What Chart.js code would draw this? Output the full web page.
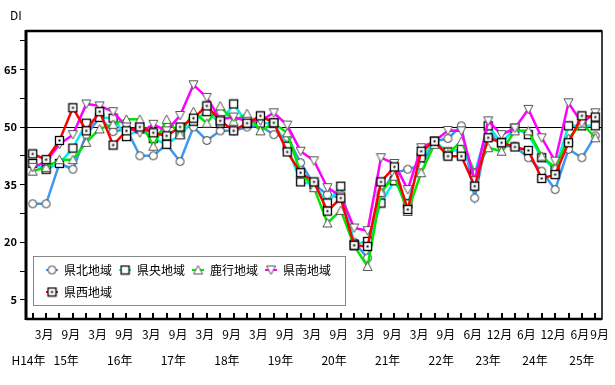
<!DOCTYPE html>
<html>
<head>
<meta charset="utf-8">
<script src="https://cdn.jsdelivr.net/npm/chart.js@4"></script>
<style>
  html, body { margin: 0; padding: 0; background: #fff; }
  canvas { display: block; }
</style>
</head>
<body>
<canvas id="chart" width="615" height="385"></canvas>
<script>
// survey points (year/month), one per quarter; H23 March is missing
const categories = ['14/12',
  '15/3','15/6','15/9','15/12','16/3','16/6','16/9','16/12',
  '17/3','17/6','17/9','17/12','18/3','18/6','18/9','18/12',
  '19/3','19/6','19/9','19/12','20/3','20/6','20/9','20/12',
  '21/3','21/6','21/9','21/12','22/3','22/6','22/9','22/12',
  '23/6','23/9','23/12','24/3','24/6','24/9','24/12',
  '25/3','25/6','25/9'];

// month labels under the axis ('' = tick without label)
const monthLabels = ['',
  '3月','','9月','','3月','','9月','',
  '3月','','9月','','3月','','9月','',
  '3月','','9月','','3月','','9月','',
  '3月','','9月','','3月','','9月','',
  '6月','','12月','','6月','','12月',
  '','6月','9月'];

const yearKeys = ['14','15','16','17','18','19','20','21','22','23','24','25'];
const yearLabels = ['H14年','15年','16年','17年','18年','19年','20年','21年','22年','23年','24年','25年'];

const yTicks = [5, 12.5, 20, 27.5, 35, 42.5, 50, 57.5, 65, 72.5];
const yLabels = [5, 20, 35, 50, 65];

const seriesNames = ['県北地域', '県央地域', '鹿行地域', '県南地域', '県西地域'];

const north   = [30, 30, 40.5, 39, 48, 52.5, 48.8, 49.5, 42.5, 42.5, 45.5, 41, 50, 46.5, 49, 49, 50, 50.3, 48, 47.4,
                 40.7, 35, 32.4, 31.5, 20, 15.9, 32.8, 38, 39, 40, 46.3, 47, 50.3, 31.5, 49, 45, 45, 42, 38.5, 33.7,
                 44.2, 42, 47.7];
const central = [40.5, 39, 40.5, 44.5, 51, 52.5, 52.3, 47.5, 49.5, 47, 45.5, 48, 51.5, 54, 51, 56, 51, 51, 51, 45,
                 35.7, 35, 30.2, 34.6, 19.5, 20.2, 30.2, 36, 30, 42, 46.3, 43.5, 44.2, 38, 50.3, 45.9, 49.7, 48, 42, 39,
                 50.3, 50.3, 50.3];
const rokko   = [38.5, 39.5, 41.5, 41.5, 46, 49.5, 50.7, 52, 52, 45, 52, 48, 54, 51, 55.5, 51.5, 53.5, 49, 51, 48.5,
                 38, 34.2, 25, 28.3, 19, 13.7, 33, 37.2, 28, 38.1, 45.5, 43, 46.3, 38.1, 44.6, 43.7, 49, 49, 42.4, 39.4,
                 47, 51, 47.2];
const south   = [39.5, 41, 45.5, 48, 56, 55.5, 54, 50, 48.5, 50.7, 49, 53, 61, 57.7, 52, 52.6, 51.5, 51.6, 53.7, 50.5,
                 43.7, 41.2, 34.2, 32, 23.7, 23, 42, 40.5, 33.7, 44.6, 46.3, 49.1, 49, 36, 51.6, 48, 49.7, 54.6, 47.2, 41.1,
                 56.3, 51, 53.7];
const west    = [43, 41.5, 46.5, 55, 49, 54, 45.3, 49, 50, 48.5, 47.7, 50, 52.3, 55.5, 51.6, 49, 51, 52.9, 51.1, 43.5,
                 38.1, 35.7, 28.1, 31.5, 19.2, 18.9, 35.7, 39.6, 28.5, 43.7, 46.3, 42.4, 42.4, 34.6, 47.2, 45.9, 44.8, 43.9, 36.6, 37.6,
                 45.9, 52.9, 52.6];

const FONT = '"Noto Sans CJK JP", "Noto Sans", sans-serif';
const lineColors = ['#3d98f0', '#00f0f0', '#00e600', '#ff00ff', '#ff0000'];

// marker images
function makeMarker(kind) {
  const c = document.createElement('canvas');
  c.width = 11; c.height = 11;
  const g = c.getContext('2d');
  g.fillStyle = '#fff';
  g.lineWidth = 1;
  if (kind === 'circle') {
    g.beginPath(); g.arc(5.5, 5.5, 4, 0, Math.PI * 2);
    g.fill(); g.strokeStyle = '#333'; g.stroke();
  } else if (kind === 'square' || kind === 'squareDot') {
    g.fillRect(1.5, 1.5, 8, 8);
    g.strokeStyle = '#000'; g.lineWidth = 1.3;
    g.strokeRect(1.5, 1.5, 8, 8);
    if (kind === 'squareDot') { g.fillStyle = '#000'; g.fillRect(4.5, 4.5, 2, 2); }
  } else if (kind === 'triUp') {
    g.beginPath(); g.moveTo(5.5, 1); g.lineTo(10, 9.5); g.lineTo(1, 9.5); g.closePath();
    g.fill(); g.strokeStyle = '#555'; g.stroke();
  } else if (kind === 'triDown') {
    g.beginPath(); g.moveTo(1, 1.5); g.lineTo(10, 1.5); g.lineTo(5.5, 10); g.closePath();
    g.fill(); g.strokeStyle = '#555'; g.stroke();
  }
  return c;
}
const markers = ['circle', 'square', 'triUp', 'triDown', 'squareDot'].map(makeMarker);

const seriesData = [north, central, rokko, south, west];
const datasets = seriesData.map((d, i) => ({
  label: seriesNames[i],
  data: d,
  borderColor: lineColors[i],
  backgroundColor: lineColors[i],
  borderWidth: 2.5,
  tension: 0,
  pointStyle: markers[i],
  pointRadius: 4,
  order: 5 - i   // later series drawn on top, like the original
}));

// frame, ticks, 50 line, labels and legend
const decor = {
  id: 'decor',
  beforeDatasetsDraw(chart) {
    const { ctx, chartArea: a, scales: { x, y } } = chart;
    ctx.save();
    // reference line at 50
    const y50 = Math.round(y.getPixelForValue(50)) + 0.5;
    ctx.strokeStyle = '#000'; ctx.lineWidth = 1;
    ctx.beginPath(); ctx.moveTo(a.left - 6, y50); ctx.lineTo(a.right, y50); ctx.stroke();
    // inward tick marks on the category axis
    ctx.lineWidth = 2;
    categories.forEach((c, i) => {
      const px = Math.round(x.getPixelForValue(i));
      ctx.beginPath(); ctx.moveTo(px, a.bottom); ctx.lineTo(px, a.bottom - 6); ctx.stroke();
    });
    ctx.restore();
  },
  afterDatasetsDraw(chart) {
    const { ctx, chartArea: a, scales: { x } } = chart;
    ctx.save();
    // plot frame
    ctx.strokeStyle = '#000';
    ctx.lineWidth = 1.5;
    ctx.strokeRect(a.left, a.top, a.right - a.left, a.bottom - a.top);
    ctx.lineWidth = 3;
    ctx.beginPath(); ctx.moveTo(a.left, a.top - 1); ctx.lineTo(a.left, a.bottom + 1); ctx.stroke();
    ctx.lineWidth = 2.5;
    ctx.beginPath(); ctx.moveTo(a.left, a.top); ctx.lineTo(a.right, a.top); ctx.stroke();
    ctx.beginPath(); ctx.moveTo(a.left, a.bottom); ctx.lineTo(a.right, a.bottom); ctx.stroke();

    // legend
    const lx = a.left + 7, ly = a.bottom - 63, lw = 312, lh = 49;
    ctx.fillStyle = '#fff';
    ctx.fillRect(lx, ly, lw, lh);
    ctx.strokeStyle = '#888'; ctx.lineWidth = 1;
    ctx.strokeRect(lx + 0.5, ly + 0.5, lw, lh);
    ctx.font = '12px ' + FONT;
    ctx.textBaseline = 'middle';
    let mx = lx + 19, my = ly + 14;
    seriesNames.forEach((name, i) => {
      if (i === 4) { mx = lx + 19; my = ly + 36; }
      ctx.strokeStyle = lineColors[i]; ctx.lineWidth = 2;
      ctx.beginPath(); ctx.moveTo(mx - 6, my); ctx.lineTo(mx + 6, my); ctx.stroke();
      ctx.drawImage(markers[i], mx - 5.5, my - 5.5);
      ctx.fillStyle = '#000';
      ctx.textAlign = 'left';
      ctx.fillText(name, mx + 12, my);
      mx += 12 + ctx.measureText(name).width + 13;
    });

    // month labels (pushed right if they would collide)
    ctx.font = '12px ' + FONT;
    ctx.textAlign = 'center';
    ctx.textBaseline = 'middle';
    ctx.fillStyle = '#000';
    let prevRight = -Infinity;
    monthLabels.forEach((lab, i) => {
      if (!lab) return;
      const w = ctx.measureText(lab).width;
      let cx = x.getPixelForValue(i) - 2;
      if (cx - w / 2 < prevRight + 1) cx = prevRight + 1 + w / 2;
      ctx.fillText(lab, cx, a.bottom + 15);
      prevRight = cx + w / 2;
    });

    // year labels centred under their quarters
    const yearPos = yearKeys.map(k => {
      const idx = categories.map((c, i) => c.split('/')[0] === k ? i : -1).filter(i => i >= 0);
      return x.getPixelForValue(idx.reduce((s, v) => s + v, 0) / idx.length);
    });
    const widths = yearLabels.map(t => ctx.measureText(t).width);
    for (let i = yearPos.length - 2; i >= 0; i--) {
      const gap = (yearPos[i + 1] - widths[i + 1] / 2) - (yearPos[i] + widths[i] / 2);
      if (gap < 8) yearPos[i] -= 8 - gap;
    }
    yearLabels.forEach((t, i) => ctx.fillText(t, yearPos[i], a.bottom + 41));

    // axis title
    ctx.textAlign = 'left';
    ctx.fillText('DI', 10, 15);
    ctx.restore();
  }
};

new Chart(document.getElementById('chart'), {
  type: 'line',
  data: { labels: categories, datasets },
  options: {
    responsive: false,
    animation: false,
    devicePixelRatio: 1,
    layout: { padding: { left: 0, right: 13, top: 31, bottom: 0 } },
    plugins: { legend: { display: false }, tooltip: { enabled: false } },
    scales: {
      x: {
        offset: true,
        grid: { display: false },
        border: { display: false },
        ticks: { display: false },
        afterFit(s) { s.height = 66; }
      },
      y: {
        min: 0,
        max: 75,
        afterBuildTicks(s) { s.ticks = yTicks.map(v => ({ value: v })); },
        grid: { drawOnChartArea: false, color: '#000', tickLength: 6, lineWidth: 1 },
        border: { display: false },
        ticks: {
          autoSkip: false,
          padding: 3,
          color: '#000',
          font: { family: FONT, size: 11, weight: 'bold' },
          callback: v => yLabels.includes(v) ? String(v) : ''
        },
        afterFit(s) { s.width = 26; }
      }
    }
  },
  plugins: [decor]
});
</script>
</body>
</html>
